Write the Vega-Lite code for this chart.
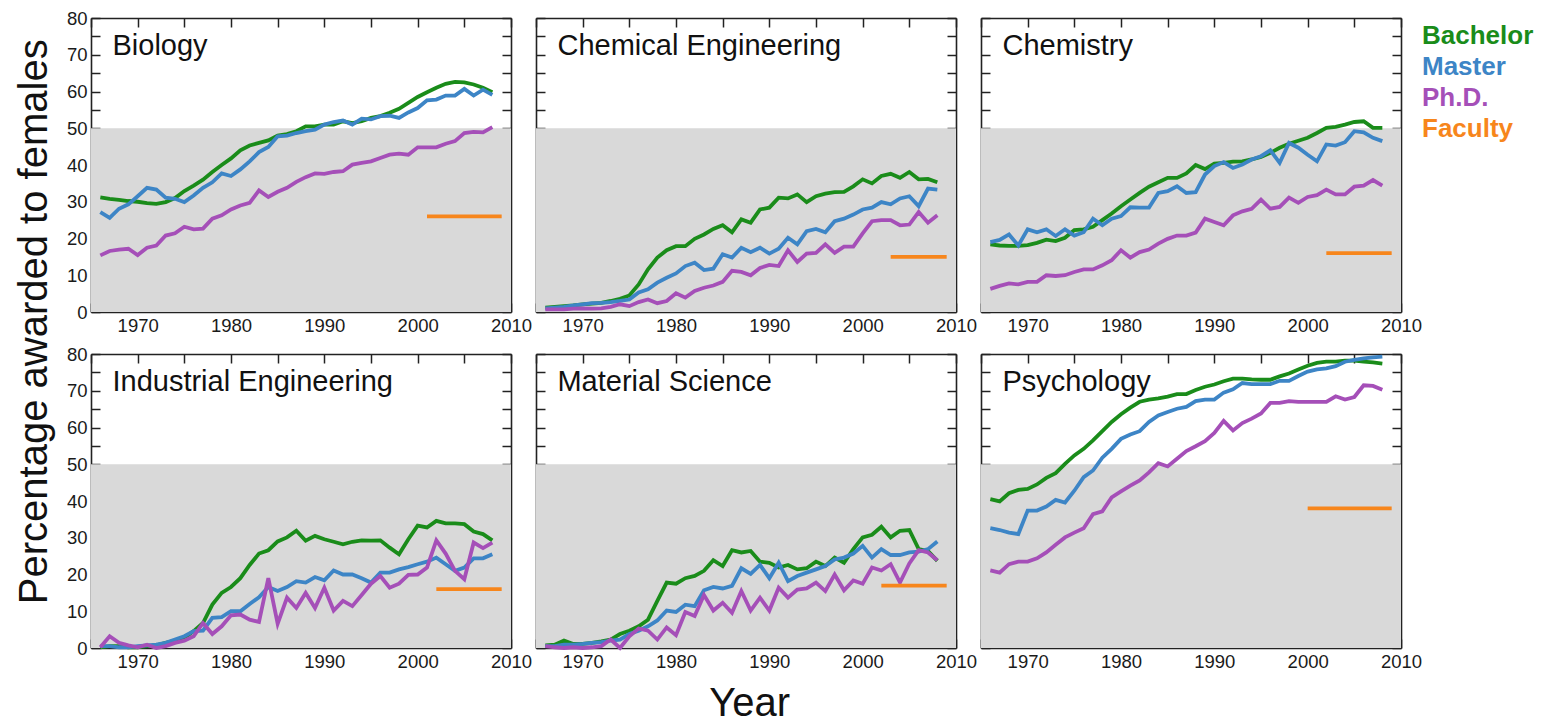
{
"$schema":"https://vega.github.io/schema/vega-lite/v6.json",
"padding":{"left":15,"top":9,"right":0,"bottom":0},
"config":{"view":{"stroke":null},"axis":{"domainColor":"#222","domainWidth":1.6,"tickColor":"#222","tickWidth":1.5,"labelFont":"Liberation Sans","labelFontSize":18.5,"labelColor":"#1a1a1a","grid":false,"zindex":1,"labelFlush":false,"labelOverlap":false},
"legend":{"symbolSize":0,"symbolOpacity":0,"symbolStrokeWidth":0,"labelOffset":0,"labelFontSize":26,"labelFontWeight":"bold","labelFont":"Liberation Sans","rowPadding":5,"padding":0}},
"title":{"text":"Year","orient":"bottom","fontSize":40,"font":"Liberation Sans","fontWeight":"normal","color":"#111","anchor":"middle","offset":13,"dx":-25},
"resolve":{"scale":{"color":"shared"},"legend":{"color":"shared"}},
"vconcat":[{
"title":{"text":"Percentage awarded to females","orient":"left","fontSize":40,"font":"Liberation Sans","fontWeight":"normal","color":"#111","anchor":"middle","offset":11,"dx":18},
"columns":3,"spacing":{"row":42,"column":25},"bounds":"flush",
"concat":[
{"width":420,"height":294,"data":{"name":"bio"},"layer":[
{"data":{"values":[{}]},"mark":{"type":"rect","color":"#d9d9d9"},"encoding":{"x":{"datum":1965,"type":"quantitative","scale":{"domain":[1965,2010],"nice":false,"zero":false},"axis":{"orient":"top","title":null,"labels":false,"domain":false,"offset":-9,"tickSize":9,"values":[1965,1970,1975,1980,1985,1990,1995,2000,2005,2010]}},"x2":{"datum":2010},"y":{"datum":0,"type":"quantitative","scale":{"domain":[0,80],"nice":false},"axis":{"orient":"right","title":null,"labels":false,"domain":false,"offset":-9,"tickSize":9,"values":[0,5,10,15,20,25,30,35,40,45,50,55,60,65,70,75,80]}},"y2":{"datum":50}}},
{"mark":{"type":"line","strokeWidth":3.8,"strokeCap":"butt"},"encoding":{"x":{"field":"x","type":"quantitative","axis":{"orient":"bottom","title":null,"domain":false,"offset":-9,"tickSize":9,"values":[1965,1970,1975,1980,1985,1990,1995,2000,2005,2010],"format":"d","labelExpr":"datum.value % 10 == 0 && datum.value > 1965 ? datum.label : ''","labelPadding":4}},"y":{"field":"v","type":"quantitative","axis":{"orient":"left","title":null,"domain":false,"offset":-9,"tickSize":9,"values":[0,5,10,15,20,25,30,35,40,45,50,55,60,65,70,75,80],"labelExpr":"datum.value % 10 == 0 ? datum.label : ''","labelPadding":4}},"color":{"field":"s","type":"nominal","scale":{"domain":["B","M","P","F"],"range":["#1a8c1a","#3d85c6","#a54fb8","#f7861c"]},"legend":{"title":null,"orient":"none","legendX":1305,"legendY":4.5,"labelExpr":"datum.value == 'B' ? 'Bachelor' : datum.value == 'M' ? 'Master' : datum.value == 'P' ? 'Ph.D.' : 'Faculty'","labelColor":{"expr":"datum.value == 'B' ? '#1a8c1a' : datum.value == 'M' ? '#3d85c6' : datum.value == 'P' ? '#a54fb8' : '#f7861c'"}}}}},
{"data":{"values":[{}]},"mark":{"type":"text","text":"Biology","align":"left","baseline":"alphabetic","fontSize":29,"font":"Liberation Sans","color":"#111"},"encoding":{"x":{"datum":1967.3,"type":"quantitative","axis":{"orient":"bottom","title":null,"labels":false,"ticks":false,"domain":true}},"y":{"datum":70,"type":"quantitative","axis":{"orient":"left","title":null,"labels":false,"ticks":false,"domain":true}}}},
{"data":{"values":[{}]},"mark":{"type":"rect","opacity":0},"encoding":{"x":{"datum":1965,"type":"quantitative","axis":{"orient":"top","title":null,"labels":false,"ticks":false,"domain":true}},"x2":{"datum":2010},"y":{"datum":0,"type":"quantitative","axis":{"orient":"right","title":null,"labels":false,"ticks":false,"domain":true}},"y2":{"datum":50}}}
],"resolve":{"axis":{"x":"independent","y":"independent"}}},
{"width":420,"height":294,"data":{"name":"cheme"},"layer":[
{"data":{"values":[{}]},"mark":{"type":"rect","color":"#d9d9d9"},"encoding":{"x":{"datum":1965,"type":"quantitative","scale":{"domain":[1965,2010],"nice":false,"zero":false},"axis":{"orient":"top","title":null,"labels":false,"domain":false,"offset":-9,"tickSize":9,"values":[1965,1970,1975,1980,1985,1990,1995,2000,2005,2010]}},"x2":{"datum":2010},"y":{"datum":0,"type":"quantitative","scale":{"domain":[0,80],"nice":false},"axis":{"orient":"right","title":null,"labels":false,"domain":false,"offset":-9,"tickSize":9,"values":[0,5,10,15,20,25,30,35,40,45,50,55,60,65,70,75,80]}},"y2":{"datum":50}}},
{"mark":{"type":"line","strokeWidth":3.8,"strokeCap":"butt"},"encoding":{"x":{"field":"x","type":"quantitative","axis":{"orient":"bottom","title":null,"domain":false,"offset":-9,"tickSize":9,"values":[1965,1970,1975,1980,1985,1990,1995,2000,2005,2010],"format":"d","labelExpr":"datum.value % 10 == 0 && datum.value > 1965 ? datum.label : ''","labelPadding":4}},"y":{"field":"v","type":"quantitative","axis":{"orient":"left","title":null,"domain":false,"offset":-9,"tickSize":9,"values":[0,5,10,15,20,25,30,35,40,45,50,55,60,65,70,75,80],"labels":false}},"color":{"field":"s","type":"nominal","scale":{"domain":["B","M","P","F"],"range":["#1a8c1a","#3d85c6","#a54fb8","#f7861c"]},"legend":{"title":null,"orient":"none","legendX":1305,"legendY":4.5,"labelExpr":"datum.value == 'B' ? 'Bachelor' : datum.value == 'M' ? 'Master' : datum.value == 'P' ? 'Ph.D.' : 'Faculty'","labelColor":{"expr":"datum.value == 'B' ? '#1a8c1a' : datum.value == 'M' ? '#3d85c6' : datum.value == 'P' ? '#a54fb8' : '#f7861c'"}}}}},
{"data":{"values":[{}]},"mark":{"type":"text","text":"Chemical Engineering","align":"left","baseline":"alphabetic","fontSize":29,"font":"Liberation Sans","color":"#111"},"encoding":{"x":{"datum":1967.3,"type":"quantitative","axis":{"orient":"bottom","title":null,"labels":false,"ticks":false,"domain":true}},"y":{"datum":70,"type":"quantitative","axis":{"orient":"left","title":null,"labels":false,"ticks":false,"domain":true}}}},
{"data":{"values":[{}]},"mark":{"type":"rect","opacity":0},"encoding":{"x":{"datum":1965,"type":"quantitative","axis":{"orient":"top","title":null,"labels":false,"ticks":false,"domain":true}},"x2":{"datum":2010},"y":{"datum":0,"type":"quantitative","axis":{"orient":"right","title":null,"labels":false,"ticks":false,"domain":true}},"y2":{"datum":50}}}
],"resolve":{"axis":{"x":"independent","y":"independent"}}},
{"width":420,"height":294,"data":{"name":"chem"},"layer":[
{"data":{"values":[{}]},"mark":{"type":"rect","color":"#d9d9d9"},"encoding":{"x":{"datum":1965,"type":"quantitative","scale":{"domain":[1965,2010],"nice":false,"zero":false},"axis":{"orient":"top","title":null,"labels":false,"domain":false,"offset":-9,"tickSize":9,"values":[1965,1970,1975,1980,1985,1990,1995,2000,2005,2010]}},"x2":{"datum":2010},"y":{"datum":0,"type":"quantitative","scale":{"domain":[0,80],"nice":false},"axis":{"orient":"right","title":null,"labels":false,"domain":false,"offset":-9,"tickSize":9,"values":[0,5,10,15,20,25,30,35,40,45,50,55,60,65,70,75,80]}},"y2":{"datum":50}}},
{"mark":{"type":"line","strokeWidth":3.8,"strokeCap":"butt"},"encoding":{"x":{"field":"x","type":"quantitative","axis":{"orient":"bottom","title":null,"domain":false,"offset":-9,"tickSize":9,"values":[1965,1970,1975,1980,1985,1990,1995,2000,2005,2010],"format":"d","labelExpr":"datum.value % 10 == 0 && datum.value > 1965 ? datum.label : ''","labelPadding":4}},"y":{"field":"v","type":"quantitative","axis":{"orient":"left","title":null,"domain":false,"offset":-9,"tickSize":9,"values":[0,5,10,15,20,25,30,35,40,45,50,55,60,65,70,75,80],"labels":false}},"color":{"field":"s","type":"nominal","scale":{"domain":["B","M","P","F"],"range":["#1a8c1a","#3d85c6","#a54fb8","#f7861c"]},"legend":{"title":null,"orient":"none","legendX":1305,"legendY":4.5,"labelExpr":"datum.value == 'B' ? 'Bachelor' : datum.value == 'M' ? 'Master' : datum.value == 'P' ? 'Ph.D.' : 'Faculty'","labelColor":{"expr":"datum.value == 'B' ? '#1a8c1a' : datum.value == 'M' ? '#3d85c6' : datum.value == 'P' ? '#a54fb8' : '#f7861c'"}}}}},
{"data":{"values":[{}]},"mark":{"type":"text","text":"Chemistry","align":"left","baseline":"alphabetic","fontSize":29,"font":"Liberation Sans","color":"#111"},"encoding":{"x":{"datum":1967.3,"type":"quantitative","axis":{"orient":"bottom","title":null,"labels":false,"ticks":false,"domain":true}},"y":{"datum":70,"type":"quantitative","axis":{"orient":"left","title":null,"labels":false,"ticks":false,"domain":true}}}},
{"data":{"values":[{}]},"mark":{"type":"rect","opacity":0},"encoding":{"x":{"datum":1965,"type":"quantitative","axis":{"orient":"top","title":null,"labels":false,"ticks":false,"domain":true}},"x2":{"datum":2010},"y":{"datum":0,"type":"quantitative","axis":{"orient":"right","title":null,"labels":false,"ticks":false,"domain":true}},"y2":{"datum":50}}}
],"resolve":{"axis":{"x":"independent","y":"independent"}}},
{"width":420,"height":294,"data":{"name":"inde"},"layer":[
{"data":{"values":[{}]},"mark":{"type":"rect","color":"#d9d9d9"},"encoding":{"x":{"datum":1965,"type":"quantitative","scale":{"domain":[1965,2010],"nice":false,"zero":false},"axis":{"orient":"top","title":null,"labels":false,"domain":false,"offset":-9,"tickSize":9,"values":[1965,1970,1975,1980,1985,1990,1995,2000,2005,2010]}},"x2":{"datum":2010},"y":{"datum":0,"type":"quantitative","scale":{"domain":[0,80],"nice":false},"axis":{"orient":"right","title":null,"labels":false,"domain":false,"offset":-9,"tickSize":9,"values":[0,5,10,15,20,25,30,35,40,45,50,55,60,65,70,75,80]}},"y2":{"datum":50}}},
{"mark":{"type":"line","strokeWidth":3.8,"strokeCap":"butt"},"encoding":{"x":{"field":"x","type":"quantitative","axis":{"orient":"bottom","title":null,"domain":false,"offset":-9,"tickSize":9,"values":[1965,1970,1975,1980,1985,1990,1995,2000,2005,2010],"format":"d","labelExpr":"datum.value % 10 == 0 && datum.value > 1965 ? datum.label : ''","labelPadding":4}},"y":{"field":"v","type":"quantitative","axis":{"orient":"left","title":null,"domain":false,"offset":-9,"tickSize":9,"values":[0,5,10,15,20,25,30,35,40,45,50,55,60,65,70,75,80],"labelExpr":"datum.value % 10 == 0 ? datum.label : ''","labelPadding":4}},"color":{"field":"s","type":"nominal","scale":{"domain":["B","M","P","F"],"range":["#1a8c1a","#3d85c6","#a54fb8","#f7861c"]},"legend":{"title":null,"orient":"none","legendX":1305,"legendY":4.5,"labelExpr":"datum.value == 'B' ? 'Bachelor' : datum.value == 'M' ? 'Master' : datum.value == 'P' ? 'Ph.D.' : 'Faculty'","labelColor":{"expr":"datum.value == 'B' ? '#1a8c1a' : datum.value == 'M' ? '#3d85c6' : datum.value == 'P' ? '#a54fb8' : '#f7861c'"}}}}},
{"data":{"values":[{}]},"mark":{"type":"text","text":"Industrial Engineering","align":"left","baseline":"alphabetic","fontSize":29,"font":"Liberation Sans","color":"#111"},"encoding":{"x":{"datum":1967.3,"type":"quantitative","axis":{"orient":"bottom","title":null,"labels":false,"ticks":false,"domain":true}},"y":{"datum":70,"type":"quantitative","axis":{"orient":"left","title":null,"labels":false,"ticks":false,"domain":true}}}},
{"data":{"values":[{}]},"mark":{"type":"rect","opacity":0},"encoding":{"x":{"datum":1965,"type":"quantitative","axis":{"orient":"top","title":null,"labels":false,"ticks":false,"domain":true}},"x2":{"datum":2010},"y":{"datum":0,"type":"quantitative","axis":{"orient":"right","title":null,"labels":false,"ticks":false,"domain":true}},"y2":{"datum":50}}}
],"resolve":{"axis":{"x":"independent","y":"independent"}}},
{"width":420,"height":294,"data":{"name":"mats"},"layer":[
{"data":{"values":[{}]},"mark":{"type":"rect","color":"#d9d9d9"},"encoding":{"x":{"datum":1965,"type":"quantitative","scale":{"domain":[1965,2010],"nice":false,"zero":false},"axis":{"orient":"top","title":null,"labels":false,"domain":false,"offset":-9,"tickSize":9,"values":[1965,1970,1975,1980,1985,1990,1995,2000,2005,2010]}},"x2":{"datum":2010},"y":{"datum":0,"type":"quantitative","scale":{"domain":[0,80],"nice":false},"axis":{"orient":"right","title":null,"labels":false,"domain":false,"offset":-9,"tickSize":9,"values":[0,5,10,15,20,25,30,35,40,45,50,55,60,65,70,75,80]}},"y2":{"datum":50}}},
{"mark":{"type":"line","strokeWidth":3.8,"strokeCap":"butt"},"encoding":{"x":{"field":"x","type":"quantitative","axis":{"orient":"bottom","title":null,"domain":false,"offset":-9,"tickSize":9,"values":[1965,1970,1975,1980,1985,1990,1995,2000,2005,2010],"format":"d","labelExpr":"datum.value % 10 == 0 && datum.value > 1965 ? datum.label : ''","labelPadding":4}},"y":{"field":"v","type":"quantitative","axis":{"orient":"left","title":null,"domain":false,"offset":-9,"tickSize":9,"values":[0,5,10,15,20,25,30,35,40,45,50,55,60,65,70,75,80],"labels":false}},"color":{"field":"s","type":"nominal","scale":{"domain":["B","M","P","F"],"range":["#1a8c1a","#3d85c6","#a54fb8","#f7861c"]},"legend":{"title":null,"orient":"none","legendX":1305,"legendY":4.5,"labelExpr":"datum.value == 'B' ? 'Bachelor' : datum.value == 'M' ? 'Master' : datum.value == 'P' ? 'Ph.D.' : 'Faculty'","labelColor":{"expr":"datum.value == 'B' ? '#1a8c1a' : datum.value == 'M' ? '#3d85c6' : datum.value == 'P' ? '#a54fb8' : '#f7861c'"}}}}},
{"data":{"values":[{}]},"mark":{"type":"text","text":"Material Science","align":"left","baseline":"alphabetic","fontSize":29,"font":"Liberation Sans","color":"#111"},"encoding":{"x":{"datum":1967.3,"type":"quantitative","axis":{"orient":"bottom","title":null,"labels":false,"ticks":false,"domain":true}},"y":{"datum":70,"type":"quantitative","axis":{"orient":"left","title":null,"labels":false,"ticks":false,"domain":true}}}},
{"data":{"values":[{}]},"mark":{"type":"rect","opacity":0},"encoding":{"x":{"datum":1965,"type":"quantitative","axis":{"orient":"top","title":null,"labels":false,"ticks":false,"domain":true}},"x2":{"datum":2010},"y":{"datum":0,"type":"quantitative","axis":{"orient":"right","title":null,"labels":false,"ticks":false,"domain":true}},"y2":{"datum":50}}}
],"resolve":{"axis":{"x":"independent","y":"independent"}}},
{"width":420,"height":294,"data":{"name":"psy"},"layer":[
{"data":{"values":[{}]},"mark":{"type":"rect","color":"#d9d9d9"},"encoding":{"x":{"datum":1965,"type":"quantitative","scale":{"domain":[1965,2010],"nice":false,"zero":false},"axis":{"orient":"top","title":null,"labels":false,"domain":false,"offset":-9,"tickSize":9,"values":[1965,1970,1975,1980,1985,1990,1995,2000,2005,2010]}},"x2":{"datum":2010},"y":{"datum":0,"type":"quantitative","scale":{"domain":[0,80],"nice":false},"axis":{"orient":"right","title":null,"labels":false,"domain":false,"offset":-9,"tickSize":9,"values":[0,5,10,15,20,25,30,35,40,45,50,55,60,65,70,75,80]}},"y2":{"datum":50}}},
{"mark":{"type":"line","strokeWidth":3.8,"strokeCap":"butt"},"encoding":{"x":{"field":"x","type":"quantitative","axis":{"orient":"bottom","title":null,"domain":false,"offset":-9,"tickSize":9,"values":[1965,1970,1975,1980,1985,1990,1995,2000,2005,2010],"format":"d","labelExpr":"datum.value % 10 == 0 && datum.value > 1965 ? datum.label : ''","labelPadding":4}},"y":{"field":"v","type":"quantitative","axis":{"orient":"left","title":null,"domain":false,"offset":-9,"tickSize":9,"values":[0,5,10,15,20,25,30,35,40,45,50,55,60,65,70,75,80],"labels":false}},"color":{"field":"s","type":"nominal","scale":{"domain":["B","M","P","F"],"range":["#1a8c1a","#3d85c6","#a54fb8","#f7861c"]},"legend":{"title":null,"orient":"none","legendX":1305,"legendY":4.5,"labelExpr":"datum.value == 'B' ? 'Bachelor' : datum.value == 'M' ? 'Master' : datum.value == 'P' ? 'Ph.D.' : 'Faculty'","labelColor":{"expr":"datum.value == 'B' ? '#1a8c1a' : datum.value == 'M' ? '#3d85c6' : datum.value == 'P' ? '#a54fb8' : '#f7861c'"}}}}},
{"data":{"values":[{}]},"mark":{"type":"text","text":"Psychology","align":"left","baseline":"alphabetic","fontSize":29,"font":"Liberation Sans","color":"#111"},"encoding":{"x":{"datum":1967.3,"type":"quantitative","axis":{"orient":"bottom","title":null,"labels":false,"ticks":false,"domain":true}},"y":{"datum":70,"type":"quantitative","axis":{"orient":"left","title":null,"labels":false,"ticks":false,"domain":true}}}},
{"data":{"values":[{}]},"mark":{"type":"rect","opacity":0},"encoding":{"x":{"datum":1965,"type":"quantitative","axis":{"orient":"top","title":null,"labels":false,"ticks":false,"domain":true}},"x2":{"datum":2010},"y":{"datum":0,"type":"quantitative","axis":{"orient":"right","title":null,"labels":false,"ticks":false,"domain":true}},"y2":{"datum":50}}}
],"resolve":{"axis":{"x":"independent","y":"independent"}}}
]}],
"datasets":{
"bio":[
{"s":"B","x":1966,"v":31.2},{"s":"B","x":1967,"v":30.8},{"s":"B","x":1968,"v":30.5},{"s":"B","x":1969,"v":30.2},{"s":"B","x":1970,"v":30.0},{"s":"B","x":1971,"v":29.6},{"s":"B","x":1972,"v":29.4},{"s":"B","x":1973,"v":29.9},{"s":"B","x":1974,"v":31.0},{"s":"B","x":1975,"v":32.9},
{"s":"B","x":1976,"v":34.4},{"s":"B","x":1977,"v":36.0},{"s":"B","x":1978,"v":38.1},{"s":"B","x":1979,"v":40.0},{"s":"B","x":1980,"v":41.8},{"s":"B","x":1981,"v":44.0},{"s":"B","x":1982,"v":45.3},{"s":"B","x":1983,"v":46.0},{"s":"B","x":1984,"v":46.7},{"s":"B","x":1985,"v":48.0},
{"s":"B","x":1986,"v":48.4},{"s":"B","x":1987,"v":49.2},{"s":"B","x":1988,"v":50.5},{"s":"B","x":1989,"v":50.5},{"s":"B","x":1990,"v":51.0},{"s":"B","x":1991,"v":51.0},{"s":"B","x":1992,"v":51.9},{"s":"B","x":1993,"v":51.4},{"s":"B","x":1994,"v":51.9},{"s":"B","x":1995,"v":52.8},
{"s":"B","x":1996,"v":53.3},{"s":"B","x":1997,"v":54.2},{"s":"B","x":1998,"v":55.3},{"s":"B","x":1999,"v":56.9},{"s":"B","x":2000,"v":58.5},{"s":"B","x":2001,"v":59.8},{"s":"B","x":2002,"v":61.0},{"s":"B","x":2003,"v":62.1},{"s":"B","x":2004,"v":62.6},{"s":"B","x":2005,"v":62.5},
{"s":"B","x":2006,"v":61.9},{"s":"B","x":2007,"v":61.0},{"s":"B","x":2008,"v":59.8},
{"s":"M","x":1966,"v":27.2},{"s":"M","x":1967,"v":25.6},{"s":"M","x":1968,"v":28.1},{"s":"M","x":1969,"v":29.3},{"s":"M","x":1970,"v":31.5},{"s":"M","x":1971,"v":33.8},{"s":"M","x":1972,"v":33.3},{"s":"M","x":1973,"v":31.1},{"s":"M","x":1974,"v":30.8},{"s":"M","x":1975,"v":29.9},
{"s":"M","x":1976,"v":31.7},{"s":"M","x":1977,"v":33.8},{"s":"M","x":1978,"v":35.3},{"s":"M","x":1979,"v":37.7},{"s":"M","x":1980,"v":37.0},{"s":"M","x":1981,"v":38.8},{"s":"M","x":1982,"v":41.0},{"s":"M","x":1983,"v":43.5},{"s":"M","x":1984,"v":44.9},{"s":"M","x":1985,"v":47.8},
{"s":"M","x":1986,"v":48.0},{"s":"M","x":1987,"v":48.7},{"s":"M","x":1988,"v":49.2},{"s":"M","x":1989,"v":49.6},{"s":"M","x":1990,"v":51.0},{"s":"M","x":1991,"v":51.7},{"s":"M","x":1992,"v":52.1},{"s":"M","x":1993,"v":51.0},{"s":"M","x":1994,"v":52.6},{"s":"M","x":1995,"v":52.4},
{"s":"M","x":1996,"v":53.3},{"s":"M","x":1997,"v":53.4},{"s":"M","x":1998,"v":52.8},{"s":"M","x":1999,"v":54.3},{"s":"M","x":2000,"v":55.5},{"s":"M","x":2001,"v":57.6},{"s":"M","x":2002,"v":57.8},{"s":"M","x":2003,"v":58.9},{"s":"M","x":2004,"v":58.9},{"s":"M","x":2005,"v":60.7},
{"s":"M","x":2006,"v":58.9},{"s":"M","x":2007,"v":60.5},{"s":"M","x":2008,"v":59.1},
{"s":"P","x":1966,"v":15.4},{"s":"P","x":1967,"v":16.6},{"s":"P","x":1968,"v":17.0},{"s":"P","x":1969,"v":17.2},{"s":"P","x":1970,"v":15.5},{"s":"P","x":1971,"v":17.5},{"s":"P","x":1972,"v":18.1},{"s":"P","x":1973,"v":20.8},{"s":"P","x":1974,"v":21.4},{"s":"P","x":1975,"v":23.2},
{"s":"P","x":1976,"v":22.5},{"s":"P","x":1977,"v":22.7},{"s":"P","x":1978,"v":25.4},{"s":"P","x":1979,"v":26.3},{"s":"P","x":1980,"v":27.9},{"s":"P","x":1981,"v":29.0},{"s":"P","x":1982,"v":29.7},{"s":"P","x":1983,"v":33.1},{"s":"P","x":1984,"v":31.3},{"s":"P","x":1985,"v":32.7},
{"s":"P","x":1986,"v":33.8},{"s":"P","x":1987,"v":35.4},{"s":"P","x":1988,"v":36.7},{"s":"P","x":1989,"v":37.7},{"s":"P","x":1990,"v":37.6},{"s":"P","x":1991,"v":38.1},{"s":"P","x":1992,"v":38.3},{"s":"P","x":1993,"v":40.1},{"s":"P","x":1994,"v":40.6},{"s":"P","x":1995,"v":41.0},
{"s":"P","x":1996,"v":41.9},{"s":"P","x":1997,"v":42.8},{"s":"P","x":1998,"v":43.1},{"s":"P","x":1999,"v":42.8},{"s":"P","x":2000,"v":44.8},{"s":"P","x":2001,"v":44.8},{"s":"P","x":2002,"v":44.8},{"s":"P","x":2003,"v":45.8},{"s":"P","x":2004,"v":46.5},{"s":"P","x":2005,"v":48.7},
{"s":"P","x":2006,"v":49.0},{"s":"P","x":2007,"v":48.9},{"s":"P","x":2008,"v":50.3},
{"s":"F","x":2001,"v":26},{"s":"F","x":2009,"v":26}],
"cheme":[
{"s":"B","x":1966,"v":1.2},{"s":"B","x":1967,"v":1.4},{"s":"B","x":1968,"v":1.6},{"s":"B","x":1969,"v":1.8},{"s":"B","x":1970,"v":2.1},{"s":"B","x":1971,"v":2.3},{"s":"B","x":1972,"v":2.5},{"s":"B","x":1973,"v":3.0},{"s":"B","x":1974,"v":3.6},{"s":"B","x":1975,"v":4.5},
{"s":"B","x":1976,"v":7.5},{"s":"B","x":1977,"v":11.6},{"s":"B","x":1978,"v":14.8},{"s":"B","x":1979,"v":16.8},{"s":"B","x":1980,"v":17.9},{"s":"B","x":1981,"v":17.9},{"s":"B","x":1982,"v":19.9},{"s":"B","x":1983,"v":21.1},{"s":"B","x":1984,"v":22.6},{"s":"B","x":1985,"v":23.6},
{"s":"B","x":1986,"v":21.7},{"s":"B","x":1987,"v":25.2},{"s":"B","x":1988,"v":24.3},{"s":"B","x":1989,"v":27.9},{"s":"B","x":1990,"v":28.4},{"s":"B","x":1991,"v":31.1},{"s":"B","x":1992,"v":30.9},{"s":"B","x":1993,"v":32.0},{"s":"B","x":1994,"v":29.9},{"s":"B","x":1995,"v":31.5},
{"s":"B","x":1996,"v":32.2},{"s":"B","x":1997,"v":32.6},{"s":"B","x":1998,"v":32.7},{"s":"B","x":1999,"v":34.2},{"s":"B","x":2000,"v":36.1},{"s":"B","x":2001,"v":35.0},{"s":"B","x":2002,"v":37.0},{"s":"B","x":2003,"v":37.6},{"s":"B","x":2004,"v":36.5},{"s":"B","x":2005,"v":38.1},
{"s":"B","x":2006,"v":36.1},{"s":"B","x":2007,"v":36.2},{"s":"B","x":2008,"v":35.3},
{"s":"M","x":1966,"v":1.0},{"s":"M","x":1967,"v":1.2},{"s":"M","x":1968,"v":1.4},{"s":"M","x":1969,"v":1.8},{"s":"M","x":1970,"v":2.1},{"s":"M","x":1971,"v":2.4},{"s":"M","x":1972,"v":2.5},{"s":"M","x":1973,"v":2.7},{"s":"M","x":1974,"v":3.0},{"s":"M","x":1975,"v":3.4},
{"s":"M","x":1976,"v":5.3},{"s":"M","x":1977,"v":6.2},{"s":"M","x":1978,"v":8.0},{"s":"M","x":1979,"v":9.3},{"s":"M","x":1980,"v":10.5},{"s":"M","x":1981,"v":12.5},{"s":"M","x":1982,"v":13.4},{"s":"M","x":1983,"v":11.4},{"s":"M","x":1984,"v":11.8},{"s":"M","x":1985,"v":15.7},
{"s":"M","x":1986,"v":14.8},{"s":"M","x":1987,"v":17.5},{"s":"M","x":1988,"v":16.3},{"s":"M","x":1989,"v":17.5},{"s":"M","x":1990,"v":15.9},{"s":"M","x":1991,"v":17.2},{"s":"M","x":1992,"v":20.2},{"s":"M","x":1993,"v":18.4},{"s":"M","x":1994,"v":22.0},{"s":"M","x":1995,"v":22.6},
{"s":"M","x":1996,"v":21.7},{"s":"M","x":1997,"v":24.7},{"s":"M","x":1998,"v":25.4},{"s":"M","x":1999,"v":26.5},{"s":"M","x":2000,"v":27.9},{"s":"M","x":2001,"v":28.4},{"s":"M","x":2002,"v":29.9},{"s":"M","x":2003,"v":29.3},{"s":"M","x":2004,"v":30.9},{"s":"M","x":2005,"v":31.5},
{"s":"M","x":2006,"v":28.8},{"s":"M","x":2007,"v":33.6},{"s":"M","x":2008,"v":33.3},
{"s":"P","x":1966,"v":0.7},{"s":"P","x":1967,"v":0.7},{"s":"P","x":1968,"v":0.7},{"s":"P","x":1969,"v":0.9},{"s":"P","x":1970,"v":1.0},{"s":"P","x":1971,"v":0.9},{"s":"P","x":1972,"v":1.0},{"s":"P","x":1973,"v":1.4},{"s":"P","x":1974,"v":2.1},{"s":"P","x":1975,"v":1.6},
{"s":"P","x":1976,"v":2.7},{"s":"P","x":1977,"v":3.4},{"s":"P","x":1978,"v":2.4},{"s":"P","x":1979,"v":3.0},{"s":"P","x":1980,"v":5.1},{"s":"P","x":1981,"v":3.9},{"s":"P","x":1982,"v":5.7},{"s":"P","x":1983,"v":6.6},{"s":"P","x":1984,"v":7.2},{"s":"P","x":1985,"v":8.2},
{"s":"P","x":1986,"v":11.2},{"s":"P","x":1987,"v":10.9},{"s":"P","x":1988,"v":10.0},{"s":"P","x":1989,"v":12.0},{"s":"P","x":1990,"v":12.8},{"s":"P","x":1991,"v":12.5},{"s":"P","x":1992,"v":16.8},{"s":"P","x":1993,"v":13.6},{"s":"P","x":1994,"v":15.9},{"s":"P","x":1995,"v":16.1},
{"s":"P","x":1996,"v":18.4},{"s":"P","x":1997,"v":16.1},{"s":"P","x":1998,"v":17.8},{"s":"P","x":1999,"v":17.8},{"s":"P","x":2000,"v":21.4},{"s":"P","x":2001,"v":24.7},{"s":"P","x":2002,"v":25.0},{"s":"P","x":2003,"v":25.0},{"s":"P","x":2004,"v":23.6},{"s":"P","x":2005,"v":23.8},
{"s":"P","x":2006,"v":27.2},{"s":"P","x":2007,"v":24.3},{"s":"P","x":2008,"v":26.3},
{"s":"F","x":2003,"v":15},{"s":"F","x":2009,"v":15}],
"chem":[
{"s":"B","x":1966,"v":18.4},{"s":"B","x":1967,"v":18.1},{"s":"B","x":1968,"v":18.0},{"s":"B","x":1969,"v":18.0},{"s":"B","x":1970,"v":18.2},{"s":"B","x":1971,"v":18.8},{"s":"B","x":1972,"v":19.7},{"s":"B","x":1973,"v":19.3},{"s":"B","x":1974,"v":20.2},{"s":"B","x":1975,"v":22.3},
{"s":"B","x":1976,"v":22.5},{"s":"B","x":1977,"v":23.2},{"s":"B","x":1978,"v":25.0},{"s":"B","x":1979,"v":26.8},{"s":"B","x":1980,"v":28.8},{"s":"B","x":1981,"v":30.6},{"s":"B","x":1982,"v":32.4},{"s":"B","x":1983,"v":34.1},{"s":"B","x":1984,"v":35.3},{"s":"B","x":1985,"v":36.5},
{"s":"B","x":1986,"v":36.5},{"s":"B","x":1987,"v":37.7},{"s":"B","x":1988,"v":40.0},{"s":"B","x":1989,"v":38.9},{"s":"B","x":1990,"v":40.4},{"s":"B","x":1991,"v":40.6},{"s":"B","x":1992,"v":40.9},{"s":"B","x":1993,"v":41.0},{"s":"B","x":1994,"v":41.5},{"s":"B","x":1995,"v":42.2},
{"s":"B","x":1996,"v":43.3},{"s":"B","x":1997,"v":44.7},{"s":"B","x":1998,"v":45.8},{"s":"B","x":1999,"v":46.6},{"s":"B","x":2000,"v":47.4},{"s":"B","x":2001,"v":48.7},{"s":"B","x":2002,"v":50.1},{"s":"B","x":2003,"v":50.4},{"s":"B","x":2004,"v":51.0},{"s":"B","x":2005,"v":51.7},
{"s":"B","x":2006,"v":51.9},{"s":"B","x":2007,"v":50.1},{"s":"B","x":2008,"v":50.1},
{"s":"M","x":1966,"v":19.0},{"s":"M","x":1967,"v":19.6},{"s":"M","x":1968,"v":21.1},{"s":"M","x":1969,"v":18.1},{"s":"M","x":1970,"v":22.5},{"s":"M","x":1971,"v":21.7},{"s":"M","x":1972,"v":22.5},{"s":"M","x":1973,"v":20.7},{"s":"M","x":1974,"v":22.5},{"s":"M","x":1975,"v":20.8},
{"s":"M","x":1976,"v":21.7},{"s":"M","x":1977,"v":25.4},{"s":"M","x":1978,"v":23.6},{"s":"M","x":1979,"v":25.4},{"s":"M","x":1980,"v":26.1},{"s":"M","x":1981,"v":28.5},{"s":"M","x":1982,"v":28.4},{"s":"M","x":1983,"v":28.4},{"s":"M","x":1984,"v":32.4},{"s":"M","x":1985,"v":32.9},
{"s":"M","x":1986,"v":34.2},{"s":"M","x":1987,"v":32.4},{"s":"M","x":1988,"v":32.6},{"s":"M","x":1989,"v":37.4},{"s":"M","x":1990,"v":39.7},{"s":"M","x":1991,"v":40.8},{"s":"M","x":1992,"v":39.2},{"s":"M","x":1993,"v":40.1},{"s":"M","x":1994,"v":41.5},{"s":"M","x":1995,"v":42.4},
{"s":"M","x":1996,"v":44.0},{"s":"M","x":1997,"v":40.6},{"s":"M","x":1998,"v":46.0},{"s":"M","x":1999,"v":44.7},{"s":"M","x":2000,"v":42.8},{"s":"M","x":2001,"v":41.0},{"s":"M","x":2002,"v":45.6},{"s":"M","x":2003,"v":45.3},{"s":"M","x":2004,"v":46.2},{"s":"M","x":2005,"v":49.2},
{"s":"M","x":2006,"v":48.9},{"s":"M","x":2007,"v":47.4},{"s":"M","x":2008,"v":46.5},
{"s":"P","x":1966,"v":6.3},{"s":"P","x":1967,"v":7.1},{"s":"P","x":1968,"v":7.8},{"s":"P","x":1969,"v":7.5},{"s":"P","x":1970,"v":8.2},{"s":"P","x":1971,"v":8.2},{"s":"P","x":1972,"v":10.0},{"s":"P","x":1973,"v":9.8},{"s":"P","x":1974,"v":10.0},{"s":"P","x":1975,"v":10.9},
{"s":"P","x":1976,"v":11.6},{"s":"P","x":1977,"v":11.6},{"s":"P","x":1978,"v":12.7},{"s":"P","x":1979,"v":14.1},{"s":"P","x":1980,"v":16.8},{"s":"P","x":1981,"v":14.8},{"s":"P","x":1982,"v":16.3},{"s":"P","x":1983,"v":17.0},{"s":"P","x":1984,"v":18.6},{"s":"P","x":1985,"v":19.9},
{"s":"P","x":1986,"v":20.8},{"s":"P","x":1987,"v":20.8},{"s":"P","x":1988,"v":21.6},{"s":"P","x":1989,"v":25.4},{"s":"P","x":1990,"v":24.5},{"s":"P","x":1991,"v":23.6},{"s":"P","x":1992,"v":26.3},{"s":"P","x":1993,"v":27.4},{"s":"P","x":1994,"v":28.1},{"s":"P","x":1995,"v":30.6},
{"s":"P","x":1996,"v":28.1},{"s":"P","x":1997,"v":28.6},{"s":"P","x":1998,"v":31.1},{"s":"P","x":1999,"v":29.7},{"s":"P","x":2000,"v":31.3},{"s":"P","x":2001,"v":31.8},{"s":"P","x":2002,"v":33.3},{"s":"P","x":2003,"v":32.0},{"s":"P","x":2004,"v":32.0},{"s":"P","x":2005,"v":34.1},
{"s":"P","x":2006,"v":34.4},{"s":"P","x":2007,"v":35.9},{"s":"P","x":2008,"v":34.4},
{"s":"F","x":2002,"v":16},{"s":"F","x":2009,"v":16}],
"inde":[
{"s":"B","x":1966,"v":0.2},{"s":"B","x":1967,"v":0.5},{"s":"B","x":1968,"v":0.5},{"s":"B","x":1969,"v":0.2},{"s":"B","x":1970,"v":0.2},{"s":"B","x":1971,"v":0.5},{"s":"B","x":1972,"v":0.7},{"s":"B","x":1973,"v":1.4},{"s":"B","x":1974,"v":2.0},{"s":"B","x":1975,"v":2.7},
{"s":"B","x":1976,"v":4.6},{"s":"B","x":1977,"v":6.8},{"s":"B","x":1978,"v":11.8},{"s":"B","x":1979,"v":15.0},{"s":"B","x":1980,"v":16.6},{"s":"B","x":1981,"v":19.0},{"s":"B","x":1982,"v":22.6},{"s":"B","x":1983,"v":25.7},{"s":"B","x":1984,"v":26.6},{"s":"B","x":1985,"v":29.0},
{"s":"B","x":1986,"v":30.1},{"s":"B","x":1987,"v":31.9},{"s":"B","x":1988,"v":29.2},{"s":"B","x":1989,"v":30.5},{"s":"B","x":1990,"v":29.6},{"s":"B","x":1991,"v":28.9},{"s":"B","x":1992,"v":28.2},{"s":"B","x":1993,"v":28.9},{"s":"B","x":1994,"v":29.3},{"s":"B","x":1995,"v":29.2},
{"s":"B","x":1996,"v":29.3},{"s":"B","x":1997,"v":27.3},{"s":"B","x":1998,"v":25.5},{"s":"B","x":1999,"v":29.6},{"s":"B","x":2000,"v":33.3},{"s":"B","x":2001,"v":32.8},{"s":"B","x":2002,"v":34.6},{"s":"B","x":2003,"v":33.9},{"s":"B","x":2004,"v":33.9},{"s":"B","x":2005,"v":33.7},
{"s":"B","x":2006,"v":31.7},{"s":"B","x":2007,"v":31.0},{"s":"B","x":2008,"v":29.3},
{"s":"M","x":1966,"v":0.5},{"s":"M","x":1967,"v":0.5},{"s":"M","x":1968,"v":0.2},{"s":"M","x":1969,"v":0.2},{"s":"M","x":1970,"v":0.5},{"s":"M","x":1971,"v":0.7},{"s":"M","x":1972,"v":0.9},{"s":"M","x":1973,"v":1.4},{"s":"M","x":1974,"v":2.3},{"s":"M","x":1975,"v":3.2},
{"s":"M","x":1976,"v":4.6},{"s":"M","x":1977,"v":4.7},{"s":"M","x":1978,"v":8.2},{"s":"M","x":1979,"v":8.4},{"s":"M","x":1980,"v":10.0},{"s":"M","x":1981,"v":10.0},{"s":"M","x":1982,"v":12.0},{"s":"M","x":1983,"v":13.8},{"s":"M","x":1984,"v":16.6},{"s":"M","x":1985,"v":15.5},
{"s":"M","x":1986,"v":16.6},{"s":"M","x":1987,"v":18.2},{"s":"M","x":1988,"v":17.8},{"s":"M","x":1989,"v":19.3},{"s":"M","x":1990,"v":18.4},{"s":"M","x":1991,"v":21.1},{"s":"M","x":1992,"v":20.0},{"s":"M","x":1993,"v":20.0},{"s":"M","x":1994,"v":19.0},{"s":"M","x":1995,"v":17.8},
{"s":"M","x":1996,"v":20.5},{"s":"M","x":1997,"v":20.5},{"s":"M","x":1998,"v":21.4},{"s":"M","x":1999,"v":22.0},{"s":"M","x":2000,"v":22.8},{"s":"M","x":2001,"v":23.5},{"s":"M","x":2002,"v":24.6},{"s":"M","x":2003,"v":22.8},{"s":"M","x":2004,"v":21.0},{"s":"M","x":2005,"v":21.9},
{"s":"M","x":2006,"v":24.4},{"s":"M","x":2007,"v":24.4},{"s":"M","x":2008,"v":25.5},
{"s":"P","x":1966,"v":0.2},{"s":"P","x":1967,"v":3.2},{"s":"P","x":1968,"v":1.4},{"s":"P","x":1969,"v":0.7},{"s":"P","x":1970,"v":0.2},{"s":"P","x":1971,"v":0.9},{"s":"P","x":1972,"v":0.0},{"s":"P","x":1973,"v":0.5},{"s":"P","x":1974,"v":1.4},{"s":"P","x":1975,"v":2.0},
{"s":"P","x":1976,"v":3.2},{"s":"P","x":1977,"v":6.8},{"s":"P","x":1978,"v":3.8},{"s":"P","x":1979,"v":5.9},{"s":"P","x":1980,"v":8.9},{"s":"P","x":1981,"v":9.1},{"s":"P","x":1982,"v":7.7},{"s":"P","x":1983,"v":7.1},{"s":"P","x":1984,"v":19.0},{"s":"P","x":1985,"v":6.6},
{"s":"P","x":1986,"v":13.7},{"s":"P","x":1987,"v":10.9},{"s":"P","x":1988,"v":15.0},{"s":"P","x":1989,"v":10.9},{"s":"P","x":1990,"v":16.4},{"s":"P","x":1991,"v":10.2},{"s":"P","x":1992,"v":12.8},{"s":"P","x":1993,"v":11.4},{"s":"P","x":1994,"v":14.4},{"s":"P","x":1995,"v":17.5},
{"s":"P","x":1996,"v":19.6},{"s":"P","x":1997,"v":16.4},{"s":"P","x":1998,"v":17.5},{"s":"P","x":1999,"v":19.9},{"s":"P","x":2000,"v":20.0},{"s":"P","x":2001,"v":21.9},{"s":"P","x":2002,"v":29.3},{"s":"P","x":2003,"v":25.7},{"s":"P","x":2004,"v":21.0},{"s":"P","x":2005,"v":18.7},
{"s":"P","x":2006,"v":28.7},{"s":"P","x":2007,"v":27.2},{"s":"P","x":2008,"v":28.7},
{"s":"F","x":2002,"v":16},{"s":"F","x":2009,"v":16}],
"mats":[
{"s":"B","x":1966,"v":0.7},{"s":"B","x":1967,"v":0.9},{"s":"B","x":1968,"v":2.0},{"s":"B","x":1969,"v":1.1},{"s":"B","x":1970,"v":1.1},{"s":"B","x":1971,"v":1.4},{"s":"B","x":1972,"v":1.8},{"s":"B","x":1973,"v":2.3},{"s":"B","x":1974,"v":3.8},{"s":"B","x":1975,"v":4.7},
{"s":"B","x":1976,"v":5.9},{"s":"B","x":1977,"v":7.7},{"s":"B","x":1978,"v":12.8},{"s":"B","x":1979,"v":17.8},{"s":"B","x":1980,"v":17.5},{"s":"B","x":1981,"v":19.0},{"s":"B","x":1982,"v":19.6},{"s":"B","x":1983,"v":21.0},{"s":"B","x":1984,"v":23.9},{"s":"B","x":1985,"v":22.3},
{"s":"B","x":1986,"v":26.6},{"s":"B","x":1987,"v":26.0},{"s":"B","x":1988,"v":26.4},{"s":"B","x":1989,"v":23.5},{"s":"B","x":1990,"v":23.2},{"s":"B","x":1991,"v":21.9},{"s":"B","x":1992,"v":22.6},{"s":"B","x":1993,"v":21.4},{"s":"B","x":1994,"v":21.7},{"s":"B","x":1995,"v":23.5},
{"s":"B","x":1996,"v":22.3},{"s":"B","x":1997,"v":24.6},{"s":"B","x":1998,"v":23.2},{"s":"B","x":1999,"v":26.9},{"s":"B","x":2000,"v":30.1},{"s":"B","x":2001,"v":30.8},{"s":"B","x":2002,"v":33.0},{"s":"B","x":2003,"v":30.1},{"s":"B","x":2004,"v":31.9},{"s":"B","x":2005,"v":32.1},
{"s":"B","x":2006,"v":26.9},{"s":"B","x":2007,"v":26.4},{"s":"B","x":2008,"v":23.7},
{"s":"M","x":1966,"v":0.5},{"s":"M","x":1967,"v":0.5},{"s":"M","x":1968,"v":0.9},{"s":"M","x":1969,"v":0.9},{"s":"M","x":1970,"v":1.1},{"s":"M","x":1971,"v":1.4},{"s":"M","x":1972,"v":1.6},{"s":"M","x":1973,"v":2.0},{"s":"M","x":1974,"v":2.3},{"s":"M","x":1975,"v":3.8},
{"s":"M","x":1976,"v":4.7},{"s":"M","x":1977,"v":5.9},{"s":"M","x":1978,"v":7.5},{"s":"M","x":1979,"v":10.2},{"s":"M","x":1980,"v":9.8},{"s":"M","x":1981,"v":11.8},{"s":"M","x":1982,"v":11.4},{"s":"M","x":1983,"v":15.7},{"s":"M","x":1984,"v":16.6},{"s":"M","x":1985,"v":16.2},
{"s":"M","x":1986,"v":16.9},{"s":"M","x":1987,"v":21.7},{"s":"M","x":1988,"v":20.2},{"s":"M","x":1989,"v":22.6},{"s":"M","x":1990,"v":19.0},{"s":"M","x":1991,"v":23.2},{"s":"M","x":1992,"v":18.2},{"s":"M","x":1993,"v":19.6},{"s":"M","x":1994,"v":20.5},{"s":"M","x":1995,"v":21.4},
{"s":"M","x":1996,"v":22.3},{"s":"M","x":1997,"v":24.1},{"s":"M","x":1998,"v":24.6},{"s":"M","x":1999,"v":25.7},{"s":"M","x":2000,"v":27.8},{"s":"M","x":2001,"v":24.6},{"s":"M","x":2002,"v":26.9},{"s":"M","x":2003,"v":25.3},{"s":"M","x":2004,"v":25.3},{"s":"M","x":2005,"v":26.0},
{"s":"M","x":2006,"v":26.2},{"s":"M","x":2007,"v":26.9},{"s":"M","x":2008,"v":29.0},
{"s":"P","x":1966,"v":0.5},{"s":"P","x":1967,"v":0.2},{"s":"P","x":1968,"v":0.0},{"s":"P","x":1969,"v":0.2},{"s":"P","x":1970,"v":0.0},{"s":"P","x":1971,"v":0.2},{"s":"P","x":1972,"v":0.5},{"s":"P","x":1973,"v":2.3},{"s":"P","x":1974,"v":0.0},{"s":"P","x":1975,"v":3.2},
{"s":"P","x":1976,"v":5.3},{"s":"P","x":1977,"v":4.7},{"s":"P","x":1978,"v":2.3},{"s":"P","x":1979,"v":5.6},{"s":"P","x":1980,"v":3.5},{"s":"P","x":1981,"v":9.8},{"s":"P","x":1982,"v":8.7},{"s":"P","x":1983,"v":14.4},{"s":"P","x":1984,"v":10.2},{"s":"P","x":1985,"v":12.3},
{"s":"P","x":1986,"v":9.6},{"s":"P","x":1987,"v":15.5},{"s":"P","x":1988,"v":10.2},{"s":"P","x":1989,"v":13.7},{"s":"P","x":1990,"v":10.2},{"s":"P","x":1991,"v":16.4},{"s":"P","x":1992,"v":13.7},{"s":"P","x":1993,"v":15.9},{"s":"P","x":1994,"v":16.2},{"s":"P","x":1995,"v":17.8},
{"s":"P","x":1996,"v":15.5},{"s":"P","x":1997,"v":20.0},{"s":"P","x":1998,"v":15.7},{"s":"P","x":1999,"v":18.4},{"s":"P","x":2000,"v":17.5},{"s":"P","x":2001,"v":21.9},{"s":"P","x":2002,"v":21.1},{"s":"P","x":2003,"v":22.8},{"s":"P","x":2004,"v":17.8},{"s":"P","x":2005,"v":23.0},
{"s":"P","x":2006,"v":26.6},{"s":"P","x":2007,"v":26.0},{"s":"P","x":2008,"v":23.9},
{"s":"F","x":2002,"v":17},{"s":"F","x":2009,"v":17}],
"psy":[
{"s":"B","x":1966,"v":40.5},{"s":"B","x":1967,"v":39.9},{"s":"B","x":1968,"v":42.1},{"s":"B","x":1969,"v":43.0},{"s":"B","x":1970,"v":43.3},{"s":"B","x":1971,"v":44.5},{"s":"B","x":1972,"v":46.3},{"s":"B","x":1973,"v":47.6},{"s":"B","x":1974,"v":50.1},{"s":"B","x":1975,"v":52.4},
{"s":"B","x":1976,"v":54.2},{"s":"B","x":1977,"v":56.5},{"s":"B","x":1978,"v":59.0},{"s":"B","x":1979,"v":61.5},{"s":"B","x":1980,"v":63.6},{"s":"B","x":1981,"v":65.4},{"s":"B","x":1982,"v":67.0},{"s":"B","x":1983,"v":67.6},{"s":"B","x":1984,"v":67.9},{"s":"B","x":1985,"v":68.4},
{"s":"B","x":1986,"v":69.1},{"s":"B","x":1987,"v":69.1},{"s":"B","x":1988,"v":70.2},{"s":"B","x":1989,"v":71.1},{"s":"B","x":1990,"v":71.7},{"s":"B","x":1991,"v":72.6},{"s":"B","x":1992,"v":73.3},{"s":"B","x":1993,"v":73.3},{"s":"B","x":1994,"v":73.1},{"s":"B","x":1995,"v":73.0},
{"s":"B","x":1996,"v":73.0},{"s":"B","x":1997,"v":73.9},{"s":"B","x":1998,"v":74.7},{"s":"B","x":1999,"v":75.8},{"s":"B","x":2000,"v":76.8},{"s":"B","x":2001,"v":77.6},{"s":"B","x":2002,"v":77.9},{"s":"B","x":2003,"v":77.9},{"s":"B","x":2004,"v":78.2},{"s":"B","x":2005,"v":78.2},
{"s":"B","x":2006,"v":77.9},{"s":"B","x":2007,"v":77.7},{"s":"B","x":2008,"v":77.4},
{"s":"M","x":1966,"v":32.6},{"s":"M","x":1967,"v":32.1},{"s":"M","x":1968,"v":31.4},{"s":"M","x":1969,"v":31.0},{"s":"M","x":1970,"v":37.4},{"s":"M","x":1971,"v":37.4},{"s":"M","x":1972,"v":38.5},{"s":"M","x":1973,"v":40.3},{"s":"M","x":1974,"v":39.6},{"s":"M","x":1975,"v":42.8},
{"s":"M","x":1976,"v":46.5},{"s":"M","x":1977,"v":48.3},{"s":"M","x":1978,"v":51.8},{"s":"M","x":1979,"v":54.2},{"s":"M","x":1980,"v":56.9},{"s":"M","x":1981,"v":58.1},{"s":"M","x":1982,"v":59.0},{"s":"M","x":1983,"v":61.5},{"s":"M","x":1984,"v":63.3},{"s":"M","x":1985,"v":64.2},
{"s":"M","x":1986,"v":65.1},{"s":"M","x":1987,"v":65.6},{"s":"M","x":1988,"v":67.2},{"s":"M","x":1989,"v":67.6},{"s":"M","x":1990,"v":67.6},{"s":"M","x":1991,"v":69.5},{"s":"M","x":1992,"v":70.4},{"s":"M","x":1993,"v":72.1},{"s":"M","x":1994,"v":71.8},{"s":"M","x":1995,"v":71.8},
{"s":"M","x":1996,"v":71.8},{"s":"M","x":1997,"v":72.7},{"s":"M","x":1998,"v":72.7},{"s":"M","x":1999,"v":74.0},{"s":"M","x":2000,"v":75.2},{"s":"M","x":2001,"v":75.8},{"s":"M","x":2002,"v":76.1},{"s":"M","x":2003,"v":76.7},{"s":"M","x":2004,"v":77.9},{"s":"M","x":2005,"v":78.4},
{"s":"M","x":2006,"v":78.8},{"s":"M","x":2007,"v":79.1},{"s":"M","x":2008,"v":79.3},
{"s":"P","x":1966,"v":21.1},{"s":"P","x":1967,"v":20.5},{"s":"P","x":1968,"v":22.8},{"s":"P","x":1969,"v":23.5},{"s":"P","x":1970,"v":23.5},{"s":"P","x":1971,"v":24.4},{"s":"P","x":1972,"v":26.0},{"s":"P","x":1973,"v":28.1},{"s":"P","x":1974,"v":30.1},{"s":"P","x":1975,"v":31.4},
{"s":"P","x":1976,"v":32.6},{"s":"P","x":1977,"v":36.4},{"s":"P","x":1978,"v":37.2},{"s":"P","x":1979,"v":41.0},{"s":"P","x":1980,"v":42.6},{"s":"P","x":1981,"v":44.2},{"s":"P","x":1982,"v":45.6},{"s":"P","x":1983,"v":47.8},{"s":"P","x":1984,"v":50.3},{"s":"P","x":1985,"v":49.4},
{"s":"P","x":1986,"v":51.5},{"s":"P","x":1987,"v":53.6},{"s":"P","x":1988,"v":54.9},{"s":"P","x":1989,"v":56.3},{"s":"P","x":1990,"v":58.5},{"s":"P","x":1991,"v":61.8},{"s":"P","x":1992,"v":59.2},{"s":"P","x":1993,"v":61.2},{"s":"P","x":1994,"v":62.4},{"s":"P","x":1995,"v":63.8},
{"s":"P","x":1996,"v":66.7},{"s":"P","x":1997,"v":66.7},{"s":"P","x":1998,"v":67.2},{"s":"P","x":1999,"v":67.0},{"s":"P","x":2000,"v":67.0},{"s":"P","x":2001,"v":67.0},{"s":"P","x":2002,"v":67.0},{"s":"P","x":2003,"v":68.5},{"s":"P","x":2004,"v":67.6},{"s":"P","x":2005,"v":68.3},
{"s":"P","x":2006,"v":71.5},{"s":"P","x":2007,"v":71.3},{"s":"P","x":2008,"v":70.3},
{"s":"F","x":2000,"v":38},{"s":"F","x":2009,"v":38}]
}
}
